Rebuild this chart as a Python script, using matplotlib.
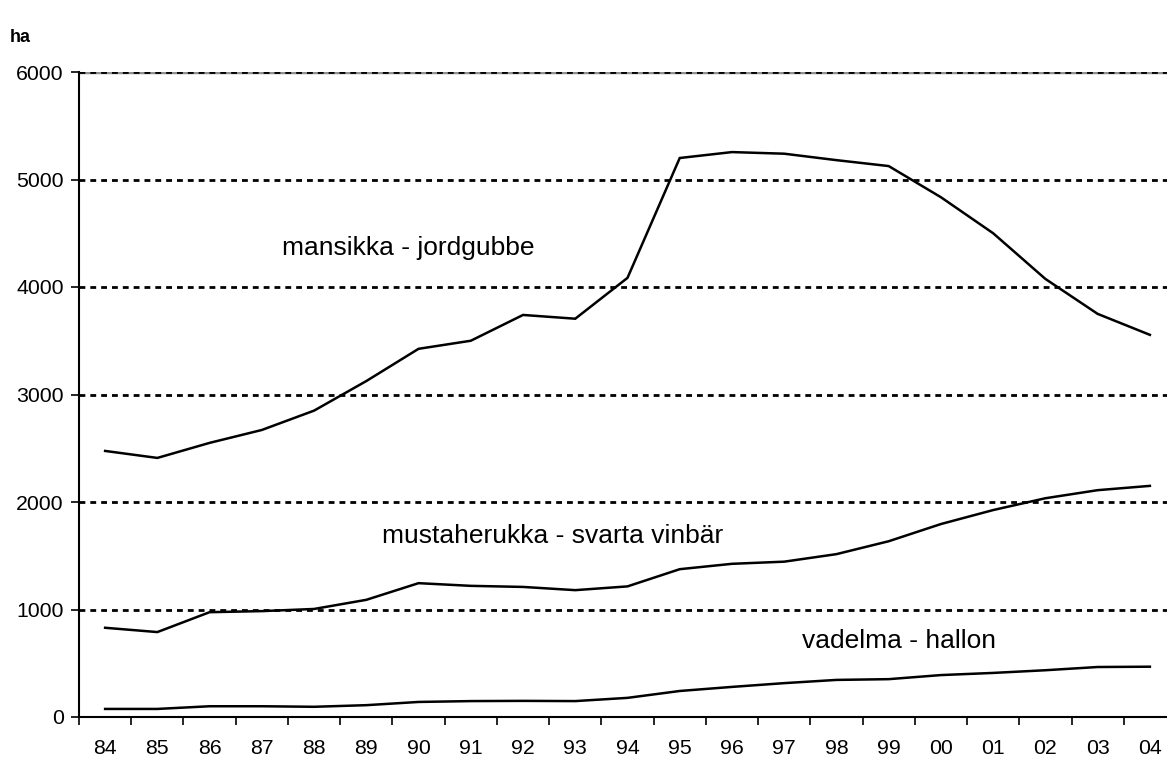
import matplotlib
matplotlib.use("Agg")
import numpy as np
import matplotlib.pyplot as plt

plt.rcParams['font.family'] = ['Liberation Sans', 'DejaVu Sans']

years = ["84", "85", "86", "87", "88", "89", "90", "91", "92", "93", "94",
         "95", "96", "97", "98", "99", "00", "01", "02", "03", "04"]

mansikka = [2475, 2410, 2550, 2670, 2850, 3125, 3425, 3500, 3740, 3705, 4085,
            5200, 5255, 5240, 5180, 5125, 4835, 4500, 4075, 3750, 3555]
mustaherukka = [830, 790, 975, 985, 1005, 1090, 1245, 1220, 1210, 1180, 1215,
                1375, 1425, 1445, 1515, 1635, 1795, 1925, 2035, 2110, 2150]
vadelma = [75, 75, 100, 100, 95, 110, 140, 148, 150, 148, 178,
           242, 280, 315, 345, 352, 390, 410, 435, 465, 468]

W, H = 1167, 758
fig = plt.figure(figsize=(W / 100, H / 100), dpi=100)
ax = fig.add_axes([79 / W, (H - 717) / H, (1176 - 79) / W, (717 - 72) / H])

x = np.arange(len(years))
for s in (mansikka, mustaherukka, vadelma):
    ax.plot(x, s, color="black", lw=1.8, solid_joinstyle="miter", zorder=3)

for g in range(1000, 6001, 1000):
    ax.axhline(g, color="black", lw=2, ls=(0, (2.1, 1.8)), zorder=2)
ax.axhline(6000, color="#909090", lw=2.5, zorder=1)

ax.set_xlim(-0.5, len(years) - 0.5)
ax.set_ylim(0, 6000)
ax.set_yticks(range(0, 6001, 1000))
ax.set_xticks(x)
ax.set_xticklabels(years)
ax.set_xticks(np.arange(-0.5, len(years)), minor=True)
ax.tick_params(axis="x", which="major", length=0, pad=16, labelsize=15.3)
ax.tick_params(axis="x", which="minor", length=6, width=1.2, direction="out")
ax.tick_params(axis="y", length=6, width=1.2, direction="out", pad=5, labelsize=15.3)

for sp in ("top", "right"):
    ax.spines[sp].set_visible(False)
ax.spines["left"].set_linewidth(1.5)
ax.spines["bottom"].set_linewidth(1.5)

ax.text(3.39, 4300, "mansikka - jordgubbe", fontsize=19, va="baseline", ha="left")
ax.text(5.3, 1620, "mustaherukka - svarta vinbär", fontsize=19, va="baseline", ha="left")
ax.text(13.34, 642, "vadelma - hallon", fontsize=19, va="baseline", ha="left")

fig.text(10 / W, 1 - 37 / H, "ha", fontsize=13, fontweight="bold", va="center", ha="left")

fig.savefig("out.png", dpi=100)
